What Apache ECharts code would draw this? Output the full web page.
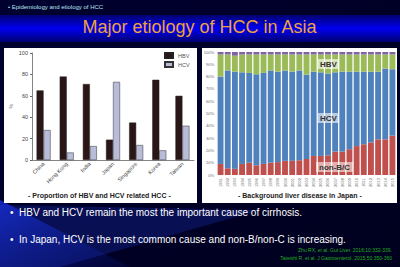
<!DOCTYPE html>
<html>
<head>
<meta charset="utf-8">
<script src="https://cdn.jsdelivr.net/npm/echarts@6/dist/echarts.min.js"></script>
<style>
  html, body { margin: 0; padding: 0; background: #00002a; }
  #main { width: 400px; height: 267px; }
</style>
</head>
<body>
<div id="main"></div>
<script>
// left chart: proportion of HBV / HCV related HCC (%)
var countries = ["China", "Hong Kong", "India", "Japan", "Singapore", "Korea", "Taiwan"];
var hbvShare = [65, 78, 71, 19, 35, 75, 60];
var hcvShare = [28, 7, 13, 73, 14, 9, 32];

// right chart: background liver disease in Japan (stacked %)
var years = ["1991", "1992", "1993", "1994", "1995", "1996", "1997", "1998", "1999", "2000",
  "2001", "2002", "2003", "2004", "2005", "2006", "2007", "2008", "2009", "2010",
  "2011", "2012", "2013", "2014", "2015"];
var nonBC = [9, 5.5, 5, 9, 10, 8, 9, 10, 10.5, 11.5, 11.5, 12, 13, 15.5, 15.5, 16, 19, 19, 21, 23.5, 25, 26.5, 29, 29, 32];
var hcvJp = [71, 79.5, 79, 74.5, 73, 74, 74, 75, 73.5, 73.5, 72.5, 73, 68.5, 68.5, 68, 66.5, 64.5, 65, 63, 60.5, 59, 57.5, 55, 57.5, 54];
var hbvJp = [18, 13, 13, 14.5, 15, 16, 15, 13, 14, 13, 14, 13, 16.5, 14, 14.5, 15.5, 14.5, 14, 14, 14, 14, 14, 14, 11.5, 12];
var otherJp = [2, 2, 3, 2, 2, 2, 2, 2, 2, 2, 2, 2, 2, 2, 2, 2, 2, 2, 2, 2, 2, 2, 2, 2, 2];

var chart = echarts.init(document.getElementById("main"), null, { renderer: "svg" });
var font = "Liberation Sans, Arial, sans-serif";

var option = {
  animation: false,
  textStyle: { fontFamily: font },
  graphic: [
    // slide background
    { type: "rect", z: -10, shape: { x: 0, y: 0, width: 400, height: 267 },
      style: { fill: new echarts.graphic.LinearGradient(0, 0, 1, 1, [
        { offset: 0, color: "#000030" }, { offset: 1, color: "#00001e" }]) } },
    { type: "polygon", z: -9, shape: { points: [[0, 200], [130, 267], [0, 267]] },
      style: { fill: new echarts.graphic.LinearGradient(0, 0, 1, 1, [
        { offset: 0, color: "rgba(20,40,200,0.9)" }, { offset: 1, color: "rgba(10,20,120,0.2)" }]) } },
    { type: "polygon", z: -9, shape: { points: [[0, 205], [260, 210], [60, 267], [0, 267]] },
      style: { fill: "rgba(30,60,220,0.25)" } },
    // title band
    { type: "rect", z: -8, shape: { x: 0, y: 15, width: 400, height: 27 },
      style: { fill: new echarts.graphic.LinearGradient(0, 0, 0, 1, [
        { offset: 0, color: "#000070" }, { offset: 0.5, color: "#0000f0" }, { offset: 1, color: "#000070" }]) } },
    { type: "text", z: 5, left: 8, top: 4,
      style: { text: "• Epidemiology and etiology of HCC", fill: "#b8e6f0", font: "6px " + font } },
    { type: "text", z: 5, left: "center", top: 18,
      style: { text: "Major etiology of HCC in Asia", fill: "#f0a040", font: "18px " + font } },
    // chart panels
    { type: "rect", z: -5, shape: { x: 4, y: 48, width: 193, height: 155 }, style: { fill: "#ffffff" } },
    { type: "rect", z: -5, shape: { x: 202, y: 48, width: 195, height: 155 }, style: { fill: "#ffffff" } },
    { type: "text", z: 5, left: 8, top: 104, rotation: Math.PI / 2,
      style: { text: "%", fill: "#555", font: "5px " + font } },
    { type: "text", z: 5, left: 28, top: 192,
      style: { text: "- Proportion of HBV and HCV related HCC -", fill: "#222", font: "bold 7px " + font } },
    { type: "text", z: 5, left: 238, top: 192,
      style: { text: "- Background liver disease in Japan -", fill: "#222", font: "bold 7px " + font } },
    // labels on right chart
    { type: "text", z: 10, left: 318, top: 59,
      style: { text: "HBV", fill: "#333", font: "bold 8px " + font, backgroundColor: "rgba(255,255,255,0.6)", padding: [1, 2] } },
    { type: "text", z: 10, left: 318, top: 113,
      style: { text: "HCV", fill: "#333", font: "bold 8px " + font, backgroundColor: "rgba(255,255,255,0.6)", padding: [1, 2] } },
    { type: "text", z: 10, left: 316, top: 162,
      style: { text: "non-B/C", fill: "#333", font: "bold 8px " + font, backgroundColor: "rgba(255,255,255,0.55)", padding: [1, 3] } },
    // bullets
    { type: "text", z: 5, left: 10, top: 207,
      style: { text: "•  HBV and HCV remain the most the important cause of cirrhosis.", fill: "#ffffff", font: "10px " + font } },
    { type: "text", z: 5, left: 10, top: 234,
      style: { text: "•  In Japan, HCV is the most common cause and non-B/non-C is increasing.", fill: "#ffffff", font: "10px " + font } },
    { type: "text", z: 5, right: 8, top: 247,
      style: { text: "Zhu RX, et al. Gut Liver. 2016;10:332-339.", fill: "#22b022", font: "5px " + font, align: "right" } },
    { type: "text", z: 5, right: 8, top: 255,
      style: { text: "Tateishi R, et al. J Gastroenterol. 2015;50:350-360", fill: "#22b022", font: "5px " + font, align: "right" } }
  ],
  legend: {
    data: ["HBV", "HCV"],
    orient: "vertical",
    left: 164, top: 52, padding: 0,
    itemWidth: 8, itemHeight: 5, itemGap: 2,
    textStyle: { fontSize: 5.5, color: "#555", padding: [0, 0, 0, 0], width: 20, overflow: "none" },
    icon: "rect"
  },
  grid: [
    { left: 32, top: 53, width: 162, height: 107 },
    { left: 217, top: 52, width: 179, height: 123 }
  ],
  xAxis: [
    { gridIndex: 0, type: "category", data: countries,
      axisLine: { lineStyle: { color: "#666", width: 0.8 } },
      axisTick: { alignWithLabel: true, length: 2, lineStyle: { color: "#666" } },
      axisLabel: { rotate: 45, fontSize: 5.5, color: "#444", margin: 3 } },
    { gridIndex: 1, type: "category", data: years,
      axisLine: { show: false }, axisTick: { show: false },
      axisLabel: { rotate: 90, fontSize: 4, color: "#666", margin: 3, interval: 0 } }
  ],
  yAxis: [
    { gridIndex: 0, type: "value", min: 0, max: 100, interval: 20,
      axisLine: { show: true, lineStyle: { color: "#666", width: 0.8 } },
      axisTick: { show: true, length: 2, lineStyle: { color: "#666" } },
      splitLine: { show: false },
      axisLabel: { fontSize: 5.5, color: "#444", margin: 4 } },
    { gridIndex: 1, type: "value", min: 0, max: 100, interval: 10,
      axisLine: { show: false }, axisTick: { show: false },
      splitLine: { show: false },
      axisLabel: { fontSize: 4, color: "#666", margin: 3, formatter: "{value}%" } }
  ],
  series: [
    { name: "HBV", type: "bar", xAxisIndex: 0, yAxisIndex: 0, data: hbvShare,
      barWidth: 7, barGap: "0%",
      itemStyle: { color: "#2a1616", borderColor: "#222", borderWidth: 0.5 } },
    { name: "HCV", type: "bar", xAxisIndex: 0, yAxisIndex: 0, data: hcvShare,
      barWidth: 7,
      itemStyle: { color: "#b8bcd8", borderColor: "#333", borderWidth: 0.5 } },
    { name: "non-B/C", type: "bar", stack: "jp", xAxisIndex: 1, yAxisIndex: 1, data: nonBC,
      barCategoryGap: "18%", itemStyle: { color: "#c0504d" } },
    { name: "HCV Japan", type: "bar", stack: "jp", xAxisIndex: 1, yAxisIndex: 1, data: hcvJp,
      itemStyle: { color: "#4f81bd" } },
    { name: "HBV Japan", type: "bar", stack: "jp", xAxisIndex: 1, yAxisIndex: 1, data: hbvJp,
      itemStyle: { color: "#9bbb59" } },
    { name: "Other", type: "bar", stack: "jp", xAxisIndex: 1, yAxisIndex: 1, data: otherJp,
      itemStyle: { color: "#8064a2" } }
  ]
};

chart.setOption(option);
</script>
</body>
</html>
